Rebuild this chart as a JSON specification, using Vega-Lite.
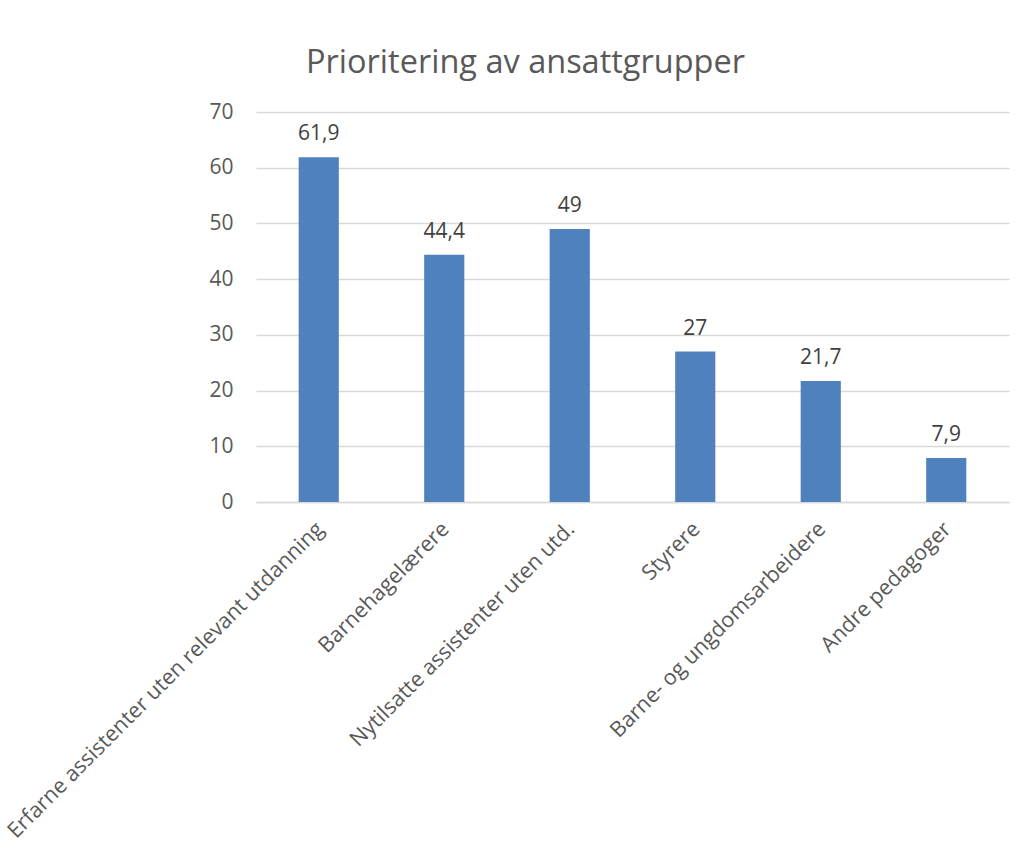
{
  "$schema": "https://vega.github.io/schema/vega-lite/v6.json",
  "autosize": {"type": "none"},
  "padding": {"left": 256, "top": 112, "right": 15, "bottom": 350},
  "width": 753,
  "height": 390,
  "background": "white",
  "config": {
    "font": "Open Sans",
    "view": {"stroke": null},
    "locale": {
      "number": {"decimal": ",", "thousands": " ", "grouping": [3], "currency": ["", " kr"]}
    }
  },
  "title": {
    "text": "Prioritering av ansattgrupper",
    "font": "Open Sans",
    "fontSize": 32.5,
    "fontWeight": "normal",
    "color": "#595959",
    "anchor": "middle",
    "frame": "group",
    "dx": -107,
    "offset": 22
  },
  "data": {
    "values": [
      {"gruppe": "Erfarne assistenter uten relevant utdanning", "andel": 61.9},
      {"gruppe": "Barnehagelærere", "andel": 44.4},
      {"gruppe": "Nytilsatte assistenter uten utd.", "andel": 49},
      {"gruppe": "Styrere", "andel": 27},
      {"gruppe": "Barne- og ungdomsarbeidere", "andel": 21.7},
      {"gruppe": "Andre pedagoger", "andel": 7.9}
    ]
  },
  "encoding": {
    "x": {
      "field": "gruppe",
      "type": "nominal",
      "sort": null,
      "scale": {"paddingInner": 0.68, "paddingOuter": 0.34},
      "axis": {
        "title": null,
        "labelAngle": -45,
        "labelFont": "Open Sans",
        "labelFontSize": 21.5,
        "labelColor": "#595959",
        "labelPadding": 16,
        "labelOffset": -6,
        "labelLimit": 0,
        "ticks": false,
        "domain": true,
        "domainColor": "#d9d9d9",
        "domainWidth": 1.5,
        "grid": false
      }
    },
    "y": {
      "field": "andel",
      "type": "quantitative",
      "scale": {"domain": [0, 70], "nice": false},
      "axis": {
        "title": null,
        "values": [0, 10, 20, 30, 40, 50, 60, 70],
        "labelFont": "Open Sans",
        "labelFontSize": 21,
        "labelColor": "#595959",
        "labelPadding": 23,
        "ticks": false,
        "tickSize": 0,
        "domain": false,
        "grid": true,
        "gridColor": "#d9d9d9",
        "gridWidth": 1.5
      }
    }
  },
  "layer": [
    {
      "mark": {"type": "bar", "color": "#4f81bd"}
    },
    {
      "mark": {
        "type": "text",
        "baseline": "alphabetic",
        "dy": -17,
        "font": "Open Sans",
        "fontSize": 21,
        "color": "#404040"
      },
      "encoding": {
        "text": {"field": "andel", "type": "quantitative", "format": "~g"}
      }
    }
  ]
}
